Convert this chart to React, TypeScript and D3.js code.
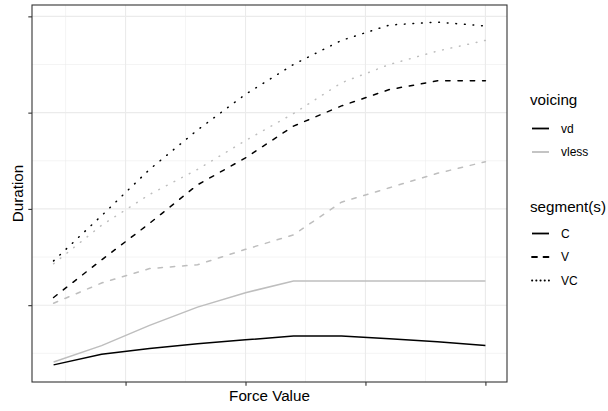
import React, { useEffect, useRef } from 'react';
import * as d3 from 'd3';

// force values on the x axis (no tick labels shown in the chart)
const forceValues = [8, 16, 24, 32, 40, 48, 56, 64, 72, 80];

// durations, one array per voicing x segment(s)
const vdC = [38, 49, 55, 60, 64, 68, 68, 65, 62, 58];
const vlessC = [41, 58, 79, 98, 113, 125, 125, 125, 125, 125];
const vdV = [108, 147, 185, 225, 253, 286, 307, 324, 333, 333];
const vlessV = [102, 123, 138, 142, 158, 173, 207, 222, 237, 249];
const vdVC = [146, 193, 241, 282, 319, 350, 375, 391, 394, 390];
const vlessVC = [143, 183, 215, 241, 271, 299, 331, 350, 364, 375];

const xTicks = [20, 40, 60, 80];
const xMinor = [10, 30, 50, 70];
const yTicks = [100, 200, 300, 400];
const yMinor = [50, 150, 250, 350];

const voicingLevels = ['vd', 'vless'];
const segmentLevels = ['C', 'V', 'VC'];

const colours: Record<string, string> = { vd: '#000000', vless: '#BEBEBE' };
// round caps, like R's default line ends
const dashes: Record<string, string | null> = { C: null, V: '4.4,7.9', VC: '0.7,7.9' };
const keyDashes: Record<string, string | null> = { C: null, V: '5,6.5', VC: '0.3,3.9' };

const series = [
  { voicing: 'vd', segment: 'C', values: vdC },
  { voicing: 'vless', segment: 'C', values: vlessC },
  { voicing: 'vd', segment: 'V', values: vdV },
  { voicing: 'vless', segment: 'V', values: vlessV },
  { voicing: 'vd', segment: 'VC', values: vdVC },
  { voicing: 'vless', segment: 'VC', values: vlessVC },
];

const FONT = '"Liberation Sans", Arial, Helvetica, sans-serif';

export default function App() {
  const chartRef = useRef<SVGSVGElement | null>(null);

  useEffect(() => {
    const width = 608;
    const height = 411;
    const panel = { left: 32, right: 507, top: 5, bottom: 382 };

    const svg = d3.select(chartRef.current);
    svg.selectAll('*').remove();
    svg.attr('width', width).attr('height', height);

    svg.append('rect').attr('width', width).attr('height', height).attr('fill', '#ffffff');

    // ggplot style 5% expansion on both axes
    const xExt = d3.extent(forceValues) as [number, number];
    const xPad = (xExt[1] - xExt[0]) * 0.05;
    const allY = series.flatMap(s => s.values);
    const yExt = d3.extent(allY) as [number, number];
    const yPad = (yExt[1] - yExt[0]) * 0.05;

    const xScale = d3.scaleLinear()
      .domain([xExt[0] - xPad, xExt[1] + xPad])
      .range([panel.left, panel.right]);

    const yScale = d3.scaleLinear()
      .domain([yExt[0] - yPad, yExt[1] + yPad])
      .range([panel.bottom, panel.top]);

    const grid = svg.append('g');
    grid.selectAll('.xminor').data(xMinor).enter().append('line')
      .attr('x1', d => xScale(d)).attr('x2', d => xScale(d))
      .attr('y1', panel.top).attr('y2', panel.bottom)
      .attr('stroke', '#EBEBEB').attr('stroke-width', 0.55);
    grid.selectAll('.yminor').data(yMinor).enter().append('line')
      .attr('x1', panel.left).attr('x2', panel.right)
      .attr('y1', d => yScale(d)).attr('y2', d => yScale(d))
      .attr('stroke', '#EBEBEB').attr('stroke-width', 0.55);
    grid.selectAll('.xmajor').data(xTicks).enter().append('line')
      .attr('x1', d => xScale(d)).attr('x2', d => xScale(d))
      .attr('y1', panel.top).attr('y2', panel.bottom)
      .attr('stroke', '#EBEBEB').attr('stroke-width', 1.1);
    grid.selectAll('.ymajor').data(yTicks).enter().append('line')
      .attr('x1', panel.left).attr('x2', panel.right)
      .attr('y1', d => yScale(d)).attr('y2', d => yScale(d))
      .attr('stroke', '#EBEBEB').attr('stroke-width', 1.1);

    const line = d3.line<number>()
      .x((d, i) => xScale(forceValues[i]))
      .y(d => yScale(d));

    series.forEach(s => {
      const path = svg.append('path')
        .datum(s.values)
        .attr('d', line)
        .attr('fill', 'none')
        .attr('stroke', colours[s.voicing])
        .attr('stroke-width', 1.5)
        .attr('stroke-linecap', s.segment === 'C' ? 'butt' : 'round');
      if (dashes[s.segment]) path.attr('stroke-dasharray', dashes[s.segment] as string);
    });

    svg.append('rect')
      .attr('x', panel.left).attr('y', panel.top)
      .attr('width', panel.right - panel.left).attr('height', panel.bottom - panel.top)
      .attr('fill', 'none').attr('stroke', '#333333').attr('stroke-width', 1.1);

    const xAxis = svg.append('g')
      .attr('transform', 'translate(0,' + panel.bottom + ')')
      .call(d3.axisBottom(xScale).tickValues(xTicks).tickFormat(() => '').tickSize(3.7).tickSizeOuter(0));
    xAxis.select('.domain').remove();
    xAxis.selectAll('line').attr('stroke', '#333333').attr('stroke-width', 1.1);

    const yAxis = svg.append('g')
      .attr('transform', 'translate(' + panel.left + ',0)')
      .call(d3.axisLeft(yScale).tickValues(yTicks).tickFormat(() => '').tickSize(3.7).tickSizeOuter(0));
    yAxis.select('.domain').remove();
    yAxis.selectAll('line').attr('stroke', '#333333').attr('stroke-width', 1.1);

    svg.append('text')
      .attr('x', (panel.left + panel.right) / 2).attr('y', 401)
      .attr('text-anchor', 'middle')
      .style('font-family', FONT).style('font-size', '15.2px')
      .text('Force Value');

    svg.append('text')
      .attr('transform', 'translate(22.5,' + (panel.top + panel.bottom) / 2 + ') rotate(-90)')
      .attr('text-anchor', 'middle')
      .style('font-family', FONT).style('font-size', '15.2px')
      .text('Duration');

    // legends
    const legX = 530;
    const keyX1 = 532;
    const keyX2 = 549;
    const labelX = 561;
    const keyStep = 23.5;

    const drawLegend = (title: string, titleY: number, firstKeyY: number, levels: string[],
                        style: (lvl: string) => { stroke: string; dash: string | null; cap: string }) => {
      svg.append('text')
        .attr('x', legX).attr('y', titleY)
        .style('font-family', FONT).style('font-size', '15.2px')
        .text(title);
      levels.forEach((lvl, i) => {
        const y = firstKeyY + i * keyStep;
        const st = style(lvl);
        const l = svg.append('line')
          .attr('x1', keyX1).attr('x2', keyX2).attr('y1', y).attr('y2', y)
          .attr('stroke', st.stroke).attr('stroke-width', 1.8)
          .attr('stroke-linecap', st.cap);
        if (st.dash) l.attr('stroke-dasharray', st.dash);
        svg.append('text')
          .attr('x', labelX).attr('y', y + 4.2)
          .style('font-family', FONT).style('font-size', '12px')
          .text(lvl);
      });
    };

    drawLegend('voicing', 104.5, 128.5, voicingLevels, lvl => ({ stroke: colours[lvl], dash: null, cap: 'butt' }));
    drawLegend('segment(s)', 212, 233.5, segmentLevels, lvl => ({
      stroke: '#000000',
      dash: keyDashes[lvl],
      cap: lvl === 'C' ? 'butt' : 'round',
    }));
  }, []);

  return (
    <svg ref={chartRef} style={{ position: 'absolute', left: 0, top: 0 }} />
  );
}
